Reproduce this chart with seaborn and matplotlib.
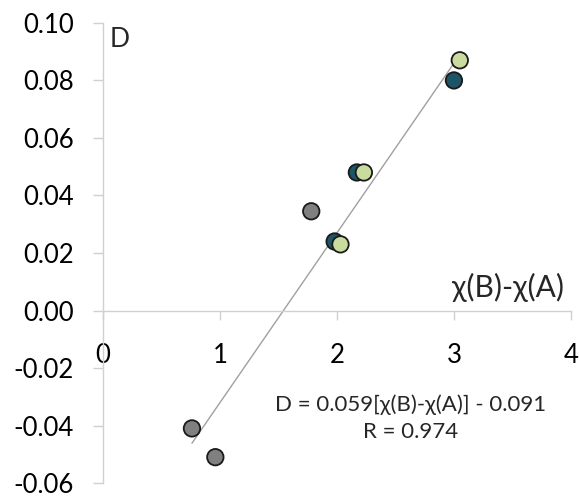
import matplotlib
matplotlib.use("Agg")
import matplotlib.pyplot as plt
import seaborn as sns
import pandas as pd
import numpy as np

# Data
gray_x = [0.76, 0.96, 1.78]
gray_y = [-0.041, -0.051, 0.0345]
teal_x = [1.98, 2.17, 3.00]
teal_y = [0.024, 0.048, 0.080]
green_x = [2.03, 2.23, 3.05]
green_y = [0.023, 0.048, 0.087]

slope = 0.059
intercept = -0.091
eq_text = "D = 0.059[\u03c7(B)-\u03c7(A)] - 0.091\nR = 0.974"
x_label = "\u03c7(B)-\u03c7(A)"
y_label = "D"
x_ticks = [0, 1, 2, 3, 4]
y_ticks = [-0.06, -0.04, -0.02, 0.00, 0.02, 0.04, 0.06, 0.08, 0.10]

df = pd.DataFrame({
    "x": gray_x + teal_x + green_x,
    "y": gray_y + teal_y + green_y,
    "group": ["gray"] * len(gray_x) + ["teal"] * len(teal_x) + ["green"] * len(green_x),
})

sns.set_theme(style="white")
plt.rcParams["font.family"] = ["Lato", "DejaVu Sans"]
plt.rcParams["axes.unicode_minus"] = False

fig = plt.figure(figsize=(5.79, 4.98), dpi=100)
ax = fig.add_axes([0.178, 0.030, 0.808, 0.924])

# trendline over data range
lx = np.array([df["x"].min(), df["x"].max()])
ax.plot(lx, slope * lx + intercept, color="#a0a0a0", lw=1.0, zorder=1)

palette = {"gray": "#808080", "teal": "#1d5566", "green": "#cadba0"}
sns.scatterplot(data=df, x="x", y="y", hue="group", palette=palette,
                s=140, edgecolor="#1a1a1a", linewidth=1.3, legend=False,
                ax=ax, zorder=3)

ax.set_xlim(0, 4)
ax.set_ylim(-0.06, 0.10)
ax.set_xticks(x_ticks)
ax.set_xticklabels([str(t) for t in x_ticks])
ax.set_yticks(y_ticks)
ax.set_yticklabels([f"{t:.2f}" for t in y_ticks])

for s in ["top", "right"]:
    ax.spines[s].set_visible(False)
ax.spines["left"].set_position(("data", 0))
ax.spines["bottom"].set_position(("data", 0))
for s in ["left", "bottom"]:
    ax.spines[s].set_color("#d0d0d0")
    ax.spines[s].set_linewidth(1.0)

ax.tick_params(axis="y", direction="out", length=7.2, width=1.0, color="#d0d0d0",
               labelsize=18.5, pad=14, left=True, labelcolor="black")
ax.tick_params(axis="x", direction="out", length=6.5, width=1.0, color="#d0d0d0",
               labelsize=18.5, pad=17, bottom=True, labelcolor="black")
ax.set_xlabel("")
ax.set_ylabel("")
ax.grid(False)

ax.text(0.06, 0.0985, y_label, fontsize=19, ha="left", va="top")
ax.text(3.94, 0.003, x_label, fontsize=21.5, ha="right", va="bottom")
ax.text(2.63, -0.0375, eq_text, fontsize=16, ha="center", va="center",
        linespacing=1.45)

fig.patch.set_facecolor("white")
fig.savefig("out.png", dpi=100, facecolor="white")
